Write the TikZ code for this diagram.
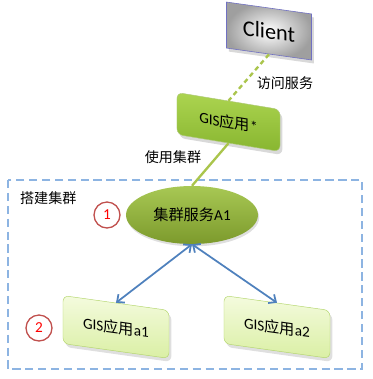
\documentclass[tikz,border=0pt]{standalone}
\usepackage{fontspec}
\setmainfont{Carlito}
\newfontfamily\cjk{Noto Sans CJK SC}
\usetikzlibrary{shapes.geometric,shadows,arrows.meta}

\definecolor{gisgreen}{RGB}{155,187,89}
\definecolor{gisblue}{RGB}{79,129,189}
\definecolor{framblue}{RGB}{141,180,226}
\definecolor{markred}{RGB}{192,80,77}

\begin{document}
\begin{tikzpicture}[x=0.03cm,y=-0.03cm,
  clientbox/.style={draw=gray!60!blue!80,line width=0.5pt,shading=radial,inner color=white,outer color=gray!75,
    minimum width=2.55cm,minimum height=1.38cm,yslant=-0.14,font=\fontsize{19}{21}\selectfont,
    drop shadow={opacity=0.3,shadow xshift=2pt,shadow yshift=-3pt}},
  appbox/.style={draw=gisgreen!80!white,rounded corners=5pt,top color={rgb,255:red,172;green,212;blue,80},bottom color={rgb,255:red,136;green,182;blue,48},
    minimum width=3.09cm,minimum height=1.26cm,yslant=-0.165,font=\fontsize{13}{15}\selectfont,
    drop shadow={opacity=0.3,shadow xshift=2pt,shadow yshift=-3pt}},
  clusterellipse/.style={ellipse,top color={rgb,255:red,168;green,200;blue,84},bottom color={rgb,255:red,124;green,154;blue,44},
    minimum width=3.96cm,minimum height=1.74cm,inner sep=0pt,font=\fontsize{13}{15}\selectfont,
    drop shadow={opacity=0.25,shadow xshift=1pt,shadow yshift=-2pt}},
  nodebox/.style={draw={rgb,255:red,180;green,214;blue,110},rounded corners=5pt,top color={rgb,255:red,244;green,251;blue,222},bottom color={rgb,255:red,218;green,239;blue,164},
    minimum width=3.18cm,minimum height=1.44cm,yslant=-0.14,font=\fontsize{13}{15}\selectfont,
    drop shadow={opacity=0.25,shadow xshift=2pt,shadow yshift=-3pt}},
  stepmark/.style={circle,draw=markred,line width=1.1pt,minimum size=0.78cm,inner sep=0pt,text=red,font=\fontsize{13}{15}\selectfont},
  lbl/.style={font=\fontsize{12}{14}\selectfont\cjk},
  link/.style={line width=2pt,draw=gisgreen!85!yellow},
  sync/.style={line width=1.5pt,draw=gisblue,{Straight Barb[length=5pt,width=9pt]}-{Straight Barb[length=5pt,width=9pt]}}]
\useasboundingbox (0,0) rectangle (373,379);

% cluster frame
\draw [framblue,line width=1.6pt,dash pattern=on 7pt off 4pt] (8,180) rectangle (362,369);
\node [lbl,anchor=west] (title) at (16,198) {搭建集群};

% nodes
\node [clientbox] (client) at (269,31) {Client};
\node [appbox] (app) at (228.5,122) {GIS{\cjk 应用}*};
\node [clusterellipse] (cluster) at (192,215) {{\cjk 集群服务}A1};
\node [nodebox] (a1) at (116,327) {GIS{\cjk 应用}a1};
\node [nodebox] (a2) at (277,327) {GIS{\cjk 应用}a2};
\node [stepmark] (s1) at (107,215) {1};
\node [stepmark] (s2) at (39,328) {2};

% connectors
\draw [link,dash pattern=on 4pt off 3pt] (client.south) -- (app.north);
\draw [link] (app.south) -- (cluster.north);
\draw [sync] (cluster.south) -- (a1.north);
\draw [sync] (cluster.south) -- (a2.north);
\node [lbl] (visit) at (285,83) {访问服务};
\node [lbl] (use) at (173,157) {使用集群};
\end{tikzpicture}
\end{document}
